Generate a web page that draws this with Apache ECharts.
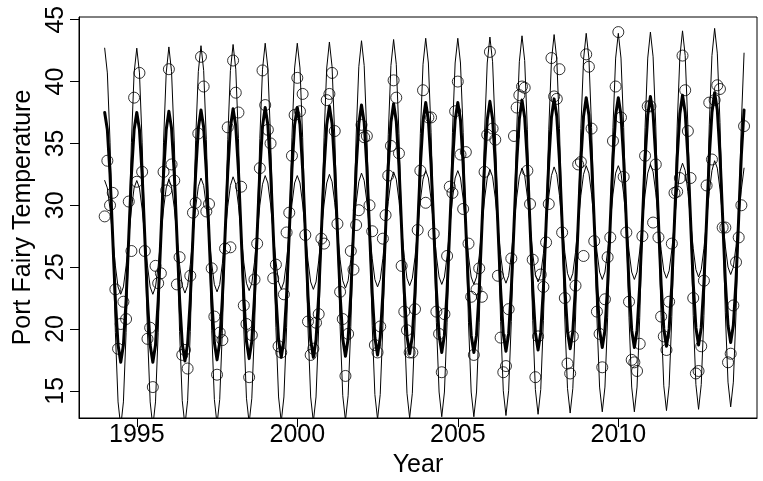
<!DOCTYPE html>
<html>
<head>
<meta charset="utf-8">
<script src="https://cdn.jsdelivr.net/npm/echarts@6/dist/echarts.min.js"></script>
<style>
html,body{margin:0;padding:0;background:#fff;}
#chart{width:763px;height:481px;}
</style>
</head>
<body>
<div id="chart"></div>
<script>
// Monthly series, Jan 1994 .. Dec 2013
const startYear = 1994;
const xTicks = [1995, 2000, 2005, 2010];
const yTicks = [15, 20, 25, 30, 35, 40, 45];

// Observed temperatures (circles)
const observed = [
  29.1, 33.6, 30.0, 31.0, 23.2, 18.4, 20.4, 22.2, 20.8, 30.3, 26.3, 38.7,
  31.9, 40.7, 32.7, 26.3, 19.2, 20.1, 15.3, 25.1, 23.7, 24.5, 32.7, 31.2,
  41.0, 33.3, 32.0, 23.6, 25.8, 17.9, 18.3, 16.8, 24.3, 29.4, 30.2, 35.8,
  42.0, 39.6, 29.5, 30.1, 24.9, 21.0, 16.3, 19.7, 19.1, 26.5, 36.3, 26.6,
  41.7, 39.1, 37.5, 31.5, 21.9, 20.4, 16.1, 19.5, 24.0, 26.9, 33.0, 40.9,
  38.1, 36.1, 35.0, 24.1, 25.2, 18.6, 18.1, 22.8, 27.8, 29.4, 34.0, 37.3,
  40.3, 37.6, 39.0, 27.6, 20.6, 17.9, 18.4, 20.5, 21.2, 27.3, 26.9, 38.5,
  39.0, 40.7, 36.0, 28.5, 23.0, 20.8, 16.2, 19.6, 26.3, 24.8, 28.4, 29.6,
  36.5, 35.5, 35.6, 30.0, 27.9, 18.7, 18.1, 20.2, 27.3, 29.2, 32.4, 34.8,
  40.1, 38.7, 34.2, 25.1, 21.4, 19.9, 18.1, 18.1, 21.6, 28.0, 32.8, 39.3,
  30.2, 37.1, 37.1, 27.7, 21.4, 19.6, 16.5, 21.2, 25.9, 31.5, 31.0, 37.6,
  40.0, 34.1, 29.7, 34.3, 26.9, 22.6, 17.9, 23.2, 24.9, 22.6, 32.7, 35.7,
  42.4, 36.2, 35.3, 24.3, 19.3, 16.5, 17.0, 21.6, 25.7, 35.6, 37.9, 38.9,
  39.6, 39.5, 32.8, 30.1, 25.6, 16.1, 19.4, 24.4, 23.4, 27.0, 30.1, 41.9,
  38.8, 38.6, 41.0, 27.8, 22.5, 17.2, 16.4, 19.4, 23.5, 33.3, 33.5, 25.9,
  42.2, 41.2, 36.2, 27.1, 21.4, 19.6, 16.9, 22.4, 25.8, 27.4, 35.2, 39.6,
  44.0, 37.1, 32.3, 27.8, 22.2, 17.5, 17.3, 16.6, 18.8, 27.5, 34.0, 38.0,
  38.0, 28.6, 33.3, 27.4, 21.0, 19.4, 18.3, 22.2, 26.9, 31.0, 31.1, 32.2,
  42.1, 39.3, 36.0, 32.2, 22.5, 16.4, 16.6, 18.6, 23.9, 31.6, 38.3, 33.7,
  38.5, 39.7, 39.4, 28.2, 28.2, 17.3, 18.0, 21.9, 25.4, 27.4, 30.0, 36.4
];

// Fitted seasonal model (thick line)
const fitted = [
  37.5,36.1,32.5,27.4,22.3,18.7,17.3,18.7,22.3,27.4,32.5,36.1,
  37.5,36.1,32.5,27.4,22.3,18.7,17.3,18.7,22.3,27.4,32.5,36.1,
  37.6,36.2,32.6,27.5,22.4,18.8,17.4,18.8,22.4,27.5,32.6,36.2,
  37.7,36.3,32.7,27.6,22.5,18.9,17.5,18.9,22.5,27.6,32.7,36.3,
  37.8,36.4,32.8,27.7,22.6,19.0,17.6,19.0,22.6,27.7,32.8,36.4,
  37.9,36.5,32.9,27.8,22.7,19.1,17.7,19.1,22.7,27.8,32.9,36.5,
  37.9,36.5,32.9,27.8,22.7,19.1,17.7,19.1,22.7,27.8,32.9,36.5,
  38.0,36.6,33.0,27.9,22.8,19.2,17.8,19.2,22.8,27.9,33.0,36.6,
  38.1,36.7,33.1,28.0,22.9,19.3,17.9,19.3,22.9,28.0,33.1,36.7,
  38.2,36.8,33.2,28.1,23.0,19.4,18.0,19.4,23.0,28.1,33.2,36.8,
  38.3,36.9,33.3,28.2,23.1,19.5,18.1,19.5,23.1,28.2,33.3,36.9,
  38.3,36.9,33.3,28.2,23.1,19.5,18.1,19.5,23.1,28.2,33.3,36.9,
  38.4,37.0,33.4,28.3,23.2,19.6,18.2,19.6,23.2,28.3,33.4,37.0,
  38.5,37.1,33.5,28.4,23.3,19.7,18.3,19.7,23.3,28.4,33.5,37.1,
  38.6,37.2,33.6,28.5,23.4,19.8,18.4,19.8,23.4,28.5,33.6,37.2,
  38.7,37.3,33.7,28.6,23.5,19.9,18.5,19.9,23.5,28.6,33.7,37.3,
  38.7,37.3,33.7,28.6,23.5,19.9,18.5,19.9,23.5,28.6,33.7,37.3,
  38.8,37.4,33.8,28.7,23.6,20.0,18.6,20.0,23.6,28.7,33.8,37.4,
  38.9,37.5,33.9,28.8,23.7,20.1,18.7,20.1,23.7,28.8,33.9,37.5,
  39.1,37.7,34.1,29.0,23.9,20.3,18.9,20.3,23.9,29.0,34.1,37.7
];

// Wide band limit (thin line, large swing)
const boundWide = [
  42.7,40.7,35.1,27.4,19.7,14.1,12.1,14.1,19.7,27.4,35.1,40.7,
  42.7,40.7,35.1,27.4,19.7,14.1,12.1,14.1,19.7,27.4,35.1,40.7,
  42.8,40.8,35.2,27.5,19.8,14.2,12.2,14.2,19.8,27.5,35.2,40.8,
  42.9,40.9,35.3,27.6,19.9,14.3,12.3,14.3,19.9,27.6,35.3,40.9,
  43.0,41.0,35.4,27.7,20.0,14.4,12.4,14.4,20.0,27.7,35.4,41.0,
  43.1,41.1,35.5,27.8,20.1,14.5,12.5,14.5,20.1,27.8,35.5,41.1,
  43.1,41.1,35.5,27.8,20.1,14.5,12.5,14.5,20.1,27.8,35.5,41.1,
  43.2,41.2,35.6,27.9,20.2,14.6,12.6,14.6,20.2,27.9,35.6,41.2,
  43.3,41.3,35.7,28.0,20.3,14.7,12.7,14.7,20.3,28.0,35.7,41.3,
  43.4,41.4,35.8,28.1,20.4,14.8,12.8,14.8,20.4,28.1,35.8,41.4,
  43.5,41.5,35.9,28.2,20.5,14.9,12.9,14.9,20.5,28.2,35.9,41.5,
  43.5,41.5,35.9,28.2,20.5,14.9,12.9,14.9,20.5,28.2,35.9,41.5,
  43.6,41.6,36.0,28.3,20.6,15.0,13.0,15.0,20.6,28.3,36.0,41.6,
  43.7,41.7,36.1,28.4,20.7,15.1,13.1,15.1,20.7,28.4,36.1,41.7,
  43.8,41.8,36.2,28.5,20.8,15.2,13.2,15.2,20.8,28.5,36.2,41.8,
  43.9,41.9,36.3,28.6,20.9,15.3,13.3,15.3,20.9,28.6,36.3,41.9,
  43.9,41.9,36.3,28.6,20.9,15.3,13.3,15.3,20.9,28.6,36.3,41.9,
  44.0,42.0,36.4,28.7,21.0,15.4,13.4,15.4,21.0,28.7,36.4,42.0,
  44.1,42.1,36.5,28.8,21.1,15.5,13.5,15.5,21.1,28.8,36.5,42.1,
  44.3,42.3,36.7,29.0,21.3,15.7,13.7,15.7,21.3,29.0,36.7,42.3
];

// Narrow band limit (thin line, small swing)
const boundNarrow = [
  32.0,31.4,29.7,27.4,25.1,23.4,22.8,23.4,25.1,27.4,29.7,31.4,
  32.0,31.4,29.7,27.4,25.1,23.4,22.8,23.4,25.1,27.4,29.7,31.4,
  32.1,31.5,29.8,27.5,25.2,23.5,22.9,23.5,25.2,27.5,29.8,31.5,
  32.2,31.6,29.9,27.6,25.3,23.6,23.0,23.6,25.3,27.6,29.9,31.6,
  32.3,31.7,30.0,27.7,25.4,23.7,23.1,23.7,25.4,27.7,30.0,31.7,
  32.4,31.8,30.1,27.8,25.5,23.8,23.2,23.8,25.5,27.8,30.1,31.8,
  32.4,31.8,30.1,27.8,25.5,23.8,23.2,23.8,25.5,27.8,30.1,31.8,
  32.5,31.9,30.2,27.9,25.6,23.9,23.3,23.9,25.6,27.9,30.2,31.9,
  32.6,32.0,30.3,28.0,25.7,24.0,23.4,24.0,25.7,28.0,30.3,32.0,
  32.7,32.1,30.4,28.1,25.8,24.1,23.5,24.1,25.8,28.1,30.4,32.1,
  32.8,32.2,30.5,28.2,25.9,24.2,23.6,24.2,25.9,28.2,30.5,32.2,
  32.8,32.2,30.5,28.2,25.9,24.2,23.6,24.2,25.9,28.2,30.5,32.2,
  32.9,32.3,30.6,28.3,26.0,24.3,23.7,24.3,26.0,28.3,30.6,32.3,
  33.0,32.4,30.7,28.4,26.1,24.4,23.8,24.4,26.1,28.4,30.7,32.4,
  33.1,32.5,30.8,28.5,26.2,24.5,23.9,24.5,26.2,28.5,30.8,32.5,
  33.2,32.6,30.9,28.6,26.3,24.6,24.0,24.6,26.3,28.6,30.9,32.6,
  33.2,32.6,30.9,28.6,26.3,24.6,24.0,24.6,26.3,28.6,30.9,32.6,
  33.3,32.7,31.0,28.7,26.4,24.7,24.1,24.7,26.4,28.7,31.0,32.7,
  33.4,32.8,31.1,28.8,26.5,24.8,24.2,24.8,26.5,28.8,31.1,32.8,
  33.6,33.0,31.3,29.0,26.7,25.0,24.4,25.0,26.7,29.0,31.3,33.0
];

const FONT = "'Liberation Sans', Arial, sans-serif";

function pairs(values) {
  return values.map((v, i) => [startYear + i / 12, v]);
}

const chart = echarts.init(document.getElementById('chart'), null, {renderer: 'canvas'});

const axisCommon = {
  axisLine: {show: true, onZero: false, lineStyle: {color: '#000', width: 1}},
  splitLine: {show: false},
  nameLocation: 'middle',
  nameTextStyle: {fontFamily: FONT, fontSize: 25, color: '#000'}
};

const option = {
  animation: false,
  backgroundColor: '#ffffff',
  grid: {
    left: 79, right: 6, top: 17, bottom: 63,
    show: true, borderColor: '#000', borderWidth: 1,
    containLabel: false, outerBoundsMode: 'none'
  },
  xAxis: Object.assign({}, axisCommon, {
    type: 'value', min: 1993.2, max: 2014.32,
    name: 'Year', nameGap: 34,
    axisTick: {show: true, length: 9, customValues: xTicks, lineStyle: {color: '#000', width: 1}},
    axisLabel: {customValues: xTicks, fontFamily: FONT, fontSize: 25, color: '#000', margin: 5,
                formatter: v => String(v)}
  }),
  yAxis: Object.assign({}, axisCommon, {
    type: 'value', min: 12.8, max: 45.22,
    name: 'Port Fairy Temperature', nameGap: 33, nameRotate: 90,
    axisTick: {show: true, length: 9, customValues: yTicks, lineStyle: {color: '#000', width: 1}},
    axisLabel: {customValues: yTicks, fontFamily: FONT, fontSize: 25, color: '#000', margin: 10, rotate: 90,
                formatter: v => String(v)}
  }),
  series: [
    {
      type: 'scatter', data: pairs(observed), symbol: 'circle', symbolSize: 11,
      itemStyle: {color: 'rgba(0,0,0,0)', borderColor: '#000', borderWidth: 1},
      silent: true, z: 2
    },
    {
      type: 'line', data: pairs(boundWide), showSymbol: false, symbol: 'none', clip: true,
      lineStyle: {color: '#000', width: 1, join: 'round', cap: 'round'}, silent: true, z: 3
    },
    {
      type: 'line', data: pairs(boundNarrow), showSymbol: false, symbol: 'none', clip: true,
      lineStyle: {color: '#000', width: 1, join: 'round', cap: 'round'}, silent: true, z: 3
    },
    {
      type: 'line', data: pairs(fitted), showSymbol: false, symbol: 'none', clip: true,
      lineStyle: {color: '#000', width: 3, join: 'round', cap: 'round'}, silent: true, z: 4
    }
  ]
};
chart.setOption(option);
</script>
</body>
</html>
